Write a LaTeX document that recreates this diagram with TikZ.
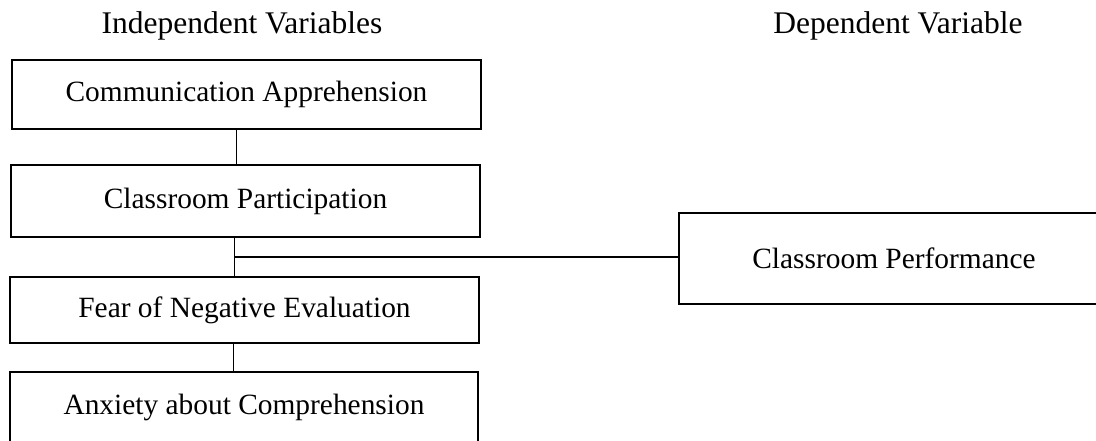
\documentclass[tikz,border=0pt]{standalone}
\usepackage{fontspec}
\setmainfont{Liberation Serif}
\usepackage{tikz}
\usetikzlibrary{positioning}

\begin{document}
\begin{tikzpicture}[x=1pt,y=-1pt]
\tikzstyle{varbox}=[draw, line width=1.2pt, minimum width=469pt,
  inner sep=0pt, font=\fontsize{29.4}{35}\selectfont]
\tikzstyle{header}=[inner sep=0pt, font=\fontsize{31.5}{36}\selectfont]
\tikzstyle{link}=[line width=1.3pt]
\useasboundingbox (0,0) rectangle (1096,441);
\clip (0,0) rectangle (1096,441);
% headers
\node[header] (indep) at (242,26) {Independent Variables};
\node[header] (dep) at (898,26) {Dependent Variable};
% independent variables
\node[varbox, minimum height=69pt] (comm) at (246.5,94.5) {Communication Apprehension};
\node[varbox, minimum height=72pt] (part) at (245.5,201) {Classroom Participation};
\node[varbox, minimum height=66pt] (fear) at (244.5,310) {Fear of Negative Evaluation};
\node[varbox, minimum height=70pt, minimum width=468pt] (anx) at (244,407) {Anxiety about Comprehension};
% dependent variable
\node[varbox, minimum height=91pt, minimum width=430pt] (perf) at (894,258.5) {Classroom Performance};
% connectors
\coordinate (jn) at (234.5,257);
\draw[link] ([xshift=-10pt]comm.south) -- ([xshift=-9pt]part.north);
\draw[link] (jn |- part.south) -- (jn |- fear.north);
\draw[link] (jn) -- (jn -| perf.west);
\draw[link] ([xshift=-11pt]fear.south) -- ([xshift=-10.5pt]anx.north);
\end{tikzpicture}
\end{document}
